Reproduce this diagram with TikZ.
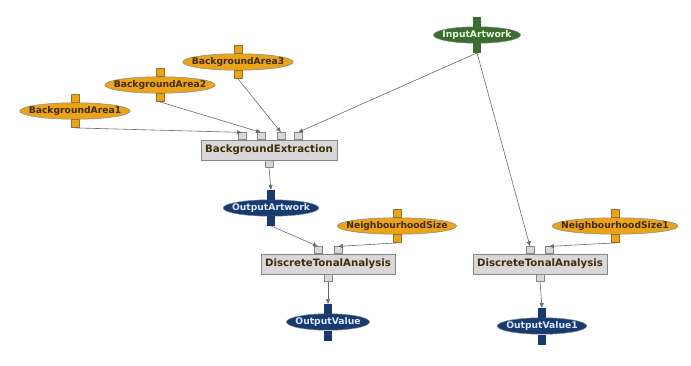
\documentclass[tikz,border=0pt]{standalone}
\usepackage{fontspec}
\setmainfont{DejaVu Sans}
\usepackage{xcolor}
\definecolor{wforange}{RGB}{233,164,26}
\definecolor{wforangedk}{RGB}{150,112,40}
\definecolor{wfbrown}{RGB}{66,42,10}
\definecolor{wfgreen}{RGB}{60,108,50}
\definecolor{wfgreenlt}{RGB}{225,250,215}
\definecolor{wfblue}{RGB}{24,58,112}
\definecolor{wfbluelt}{RGB}{220,232,255}
\definecolor{wfgray}{RGB}{216,216,216}
\definecolor{wfgraydk}{RGB}{135,135,135}
\definecolor{wfedge}{RGB}{105,105,105}
\usetikzlibrary{arrows.meta,positioning,shapes.geometric}
\newcommand{\slim}[1]{\makebox[0.707\width]{#1}}

\begin{document}
\begin{tikzpicture}[x=1pt,y=-1pt,
    every node/.style={font=\bfseries\fontsize{9.2}{11}\selectfont},
    ell/.style={ellipse,draw=wfgraydk,line width=0.5pt,inner xsep=6.4pt,
                inner ysep=0pt,minimum height=16.5pt},
    parm/.style={ell,fill=wforange,text=wfbrown},
    inp/.style={ell,fill=wfgreen,text=wfgreenlt},
    outp/.style={ell,fill=wfblue,text=wfbluelt},
    box/.style={draw=wfgraydk,fill=wfgray,text=wfbrown,minimum height=20pt,
                inner xsep=4pt,font=\bfseries\fontsize{10.2}{12}\selectfont},
    port/.style={draw,line width=0.4pt,inner sep=0pt,minimum width=7pt,
                 minimum height=7pt},
    pport/.style={port,fill=wforange,draw=wforangedk,minimum width=8.5pt,
                  minimum height=8pt},
    gport/.style={port,fill=wfgray,draw=wfgraydk,minimum width=8pt},
    bport/.style={port,fill=wfblue,draw=wfblue,minimum height=9pt},
    iport/.style={port,fill=wfgreen,draw=wfgreen,minimum height=9pt},
    arr/.style={-{Latex[length=5pt,width=4.5pt]},wfedge,line width=0.6pt}]

  \useasboundingbox (0,0) rectangle (691,366);

  \node[parm] (ba1) at ( 75,111) {\slim{BackgroundArea1}};
  \node[parm] (ba2) at (160, 85) {\slim{BackgroundArea2}};
  \node[parm] (ba3) at (238, 62) {\slim{BackgroundArea3}};
  \node[inp]  (in)  at (477, 35) {\slim{InputArtwork}};

  \node[box]  (bx)  at (269,150) {BackgroundExtraction};
  \node[outp] (oa)  at (271,208) {\slim{OutputArtwork}};
  \node[parm] (ns)  at (397,226) {\slim{NeighbourhoodSize}};
  \node[parm] (ns1) at (615,226) {\slim{NeighbourhoodSize1}};

  \node[box]  (dt1) at (328,264) {DiscreteTonalAnalysis};
  \node[box]  (dt2) at (540,264) {DiscreteTonalAnalysis};
  \node[outp] (ov)  at (328,322) {\slim{OutputValue}};
  \node[outp] (ov1) at (542,326) {\slim{OutputValue1}};

  \node[pport,above=0pt of ba1] (ba1t) {};
  \node[pport,below=0pt of ba1] (ba1b) {};
  \node[pport,above=0pt of ba2] (ba2t) {};
  \node[pport,below=0pt of ba2] (ba2b) {};
  \node[pport,above=0pt of ba3] (ba3t) {};
  \node[pport,below=0pt of ba3] (ba3b) {};
  \node[pport,above=0pt of ns]  (nst)  {};
  \node[pport,below=0pt of ns]  (nsb)  {};
  \node[pport,above=0pt of ns1] (ns1t) {};
  \node[pport,below=0pt of ns1] (ns1b) {};
  \node[iport,above=0pt of in]  (int)  {};
  \node[iport,below=0pt of in]  (inb)  {};
  \node[bport,above=0pt of oa]  (oat)  {};
  \node[bport,below=0pt of oa]  (oab)  {};
  \node[bport,above=0pt of ov]  (ovt)  {};
  \node[bport,below=0pt of ov]  (ovb)  {};
  \node[bport,above=0pt of ov1] (ov1t) {};
  \node[bport,below=0pt of ov1] (ov1b) {};

  \node[gport,anchor=south] (bx1) at ([xshift=-27pt]bx.north) {};
  \node[gport,anchor=south] (bx2) at ([xshift=-8pt]bx.north)  {};
  \node[gport,anchor=south] (bx3) at ([xshift=12pt]bx.north)  {};
  \node[gport,anchor=south] (bx4) at ([xshift=29pt]bx.north)  {};
  \node[gport,below=0pt of bx]  (bxo)  {};
  \node[gport,anchor=south] (dt1a) at ([xshift=-10pt]dt1.north) {};
  \node[gport,anchor=south] (dt1b) at ([xshift=10pt]dt1.north)  {};
  \node[gport,below=0pt of dt1] (dt1o) {};
  \node[gport,anchor=south] (dt2a) at ([xshift=-10pt]dt2.north) {};
  \node[gport,anchor=south] (dt2b) at ([xshift=9pt]dt2.north)   {};
  \node[gport,below=0pt of dt2] (dt2o) {};

  \draw[arr] (ba1b.south) -- (bx1.north);
  \draw[arr] (ba2b.south) -- (bx2.north);
  \draw[arr] (ba3b.south) -- (bx3.north);
  \draw[arr] (inb.south)  -- (bx4.north);
  \draw[arr] (inb.south)  -- (dt2a.north);
  \draw[arr] (bxo.south)  -- (oat.north);
  \draw[arr] (oab.south)  -- (dt1a.north);
  \draw[arr] (nsb.south)  -- (dt1b.north);
  \draw[arr] (dt1o.south) -- (ovt.north);
  \draw[arr] (ns1b.south) -- (dt2b.north);
  \draw[arr] (dt2o.south) -- (ov1t.north);
\end{tikzpicture}
\end{document}
